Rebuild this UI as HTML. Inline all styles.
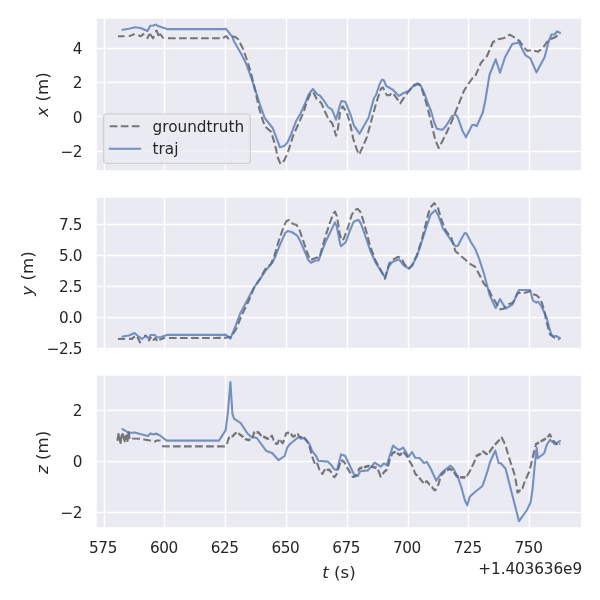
<!DOCTYPE html>
<html><head><meta charset="utf-8"><title>trajectory xyz</title>
<style>
html,body{margin:0;padding:0;background:#fff;}
body{width:600px;height:600px;overflow:hidden;font-family:"DejaVu Sans","Liberation Sans",sans-serif;}
svg{display:block;}
</style></head><body>
<svg width="600" height="600" viewBox="0 0 432 432">
 <defs>
  <style type="text/css">*{stroke-linejoin: round; stroke-linecap: butt}</style>
 </defs>
 <g id="figure_1">
  <g id="patch_1">
   <path d="M 0 432 
L 432 432 
L 432 0 
L 0 0 
z
" style="fill: #ffffff"/>
  </g>
  <g id="axes_1">
   <g id="patch_2">
    <path d="M 69.12 123.12 
L 419.04 123.12 
L 419.04 12.96 
L 69.12 12.96 
z
" style="fill: #eaeaf2"/>
   </g>
   <g id="matplotlib.axis_1">
    <g id="xtick_1">
     <g id="line2d_1">
      <path d="M 75.2400 123.12 L 75.2400 12.96" clip-path="url(#p0ea78d6b2a)" style="fill: none; stroke: #ffffff; stroke-linecap: round"/>
     </g>
    </g>
    <g id="xtick_2">
     <g id="line2d_2">
      <path d="M 118.4400 123.12 L 118.4400 12.96" clip-path="url(#p0ea78d6b2a)" style="fill: none; stroke: #ffffff; stroke-linecap: round"/>
     </g>
    </g>
    <g id="xtick_3">
     <g id="line2d_3">
      <path d="M 162.3600 123.12 L 162.3600 12.96" clip-path="url(#p0ea78d6b2a)" style="fill: none; stroke: #ffffff; stroke-linecap: round"/>
     </g>
    </g>
    <g id="xtick_4">
     <g id="line2d_4">
      <path d="M 206.2800 123.12 L 206.2800 12.96" clip-path="url(#p0ea78d6b2a)" style="fill: none; stroke: #ffffff; stroke-linecap: round"/>
     </g>
    </g>
    <g id="xtick_5">
     <g id="line2d_5">
      <path d="M 250.2000 123.12 L 250.2000 12.96" clip-path="url(#p0ea78d6b2a)" style="fill: none; stroke: #ffffff; stroke-linecap: round"/>
     </g>
    </g>
    <g id="xtick_6">
     <g id="line2d_6">
      <path d="M 294.1200 123.12 L 294.1200 12.96" clip-path="url(#p0ea78d6b2a)" style="fill: none; stroke: #ffffff; stroke-linecap: round"/>
     </g>
    </g>
    <g id="xtick_7">
     <g id="line2d_7">
      <path d="M 337.3200 123.12 L 337.3200 12.96" clip-path="url(#p0ea78d6b2a)" style="fill: none; stroke: #ffffff; stroke-linecap: round"/>
     </g>
    </g>
    <g id="xtick_8">
     <g id="line2d_8">
      <path d="M 381.2400 123.12 L 381.2400 12.96" clip-path="url(#p0ea78d6b2a)" style="fill: none; stroke: #ffffff; stroke-linecap: round"/>
     </g>
    </g>
   </g>
   <g id="matplotlib.axis_2">
    <g id="ytick_1">
     <g id="line2d_9">
      <path d="M 69.12 109.0800 L 419.04 109.0800" clip-path="url(#p0ea78d6b2a)" style="fill: none; stroke: #ffffff; stroke-linecap: round"/>
     </g>
     <g id="text_1">
      <text style="font-size: 11px; font-family: 'DejaVu Sans', 'Liberation Sans', sans-serif; text-anchor: end; fill: #262626; letter-spacing: -0.3px" x="59.120" y="112.971">−2</text>
     </g>
    </g>
    <g id="ytick_2">
     <g id="line2d_10">
      <path d="M 69.12 83.8800 L 419.04 83.8800" clip-path="url(#p0ea78d6b2a)" style="fill: none; stroke: #ffffff; stroke-linecap: round"/>
     </g>
     <g id="text_2">
      <text style="font-size: 11px; font-family: 'DejaVu Sans', 'Liberation Sans', sans-serif; text-anchor: end; fill: #262626; letter-spacing: -0.3px" x="59.120" y="88.275">0</text>
     </g>
    </g>
    <g id="ytick_3">
     <g id="line2d_11">
      <path d="M 69.12 59.4000 L 419.04 59.4000" clip-path="url(#p0ea78d6b2a)" style="fill: none; stroke: #ffffff; stroke-linecap: round"/>
     </g>
     <g id="text_3">
      <text style="font-size: 11px; font-family: 'DejaVu Sans', 'Liberation Sans', sans-serif; text-anchor: end; fill: #262626; letter-spacing: -0.3px" x="59.120" y="63.579">2</text>
     </g>
    </g>
    <g id="ytick_4">
     <g id="line2d_12">
      <path d="M 69.12 34.9200 L 419.04 34.9200" clip-path="url(#p0ea78d6b2a)" style="fill: none; stroke: #ffffff; stroke-linecap: round"/>
     </g>
     <g id="text_4">
      <text style="font-size: 11px; font-family: 'DejaVu Sans', 'Liberation Sans', sans-serif; text-anchor: end; fill: #262626; letter-spacing: -0.3px" x="59.120" y="38.883">4</text>
     </g>
    </g>
    <g id="text_5">
     <g transform="translate(35.348 84.060) rotate(-90)"><text x="0" y="-0.890625" xml:space="preserve" style="font-size: 12px; font-family: 'DejaVu Sans', 'Liberation Sans', sans-serif; fill: #262626"><tspan style="font-style: italic">x</tspan> (m)</text></g>
    </g>
   </g>
   <g id="line2d_13">
    <path d="M 120.9312 27.572326 
L 160.56 27.504 
L 162.72 25.92 
L 164.376 27.72 
L 166.824 26.424 
L 169.2 26.424 
L 171.576 28.296 
L 174.96 35.064 
L 177.84 43.2 
L 180.216 50.904 
L 182.664 60.48 
L 185.04 71.064 
L 186.696 78.264 
L 189.576 87.84 
L 191.52 91.656 
L 195.336 95.04 
L 198.216 105.12 
L 200.16 113.76 
L 201.888 118.08 
L 204.48 115.704 
L 206.856 110.88 
L 211.176 97.416 
L 215.064 88.776 
L 218.88 80.136 
L 220.824 73.224 
L 223.704 66.96 
L 225.576 66.456 
L 228.024 71.28 
L 231.336 74.16 
L 233.784 79.92 
L 236.664 86.184 
L 239.04 88.56 
L 240.48 92.376 
L 241.92 97.704 
L 243.36 92.376 
L 244.8 80.856 
L 246.744 76.536 
L 249.624 80.856 
L 252 88.56 
L 254.376 100.08 
L 257.256 108.72 
L 258.696 111.24 
L 264.024 99.144 
L 267.984 84.6 
L 271.08 73.44 
L 274.32 63.864 
L 275.76 62.856 
L 277.2 66.24 
L 278.64 68.616 
L 280.584 68.616 
L 282.024 66.744 
L 283.464 67.68 
L 288.216 74.376 
L 291.6 69.12 
L 295.416 64.296 
L 298.8 61.416 
L 301.176 60.48 
L 303.12 62.28 
L 306 71.064 
L 308.52 80.28 
L 311.184 91.008 
L 313.344 100.584 
L 315.864 106.56 
L 320.184 98.424 
L 325.44 86.904 
L 329.76 76.32 
L 334.08 65.304 
L 337.32 60.192 
L 340.344 56.16 
L 342 55.224 
L 346.32 45.144 
L 350.64 40.32 
L 354.96 30.24 
L 358.776 28.296 
L 363.096 27.36 
L 366.984 24.984 
L 370.296 26.856 
L 374.184 29.664 
L 377.28 34.344 
L 379.656 36.576 
L 383.04 36 
L 387.36 37.224 
L 390.6 34.92 
L 394.92 28.8 
L 397.44 27.72 
L 399.24 27 
L 401.04 25.92 
L 403.2 27.216 
" clip-path="url(#p0ea78d6b2a)" style="fill: none; stroke-dasharray: 5.55,2.4; stroke-dashoffset: 0; stroke: #000000; stroke-opacity: 0.5; stroke-width: 1.5"/>
   </g>
   <g id="line2d_14">
    <path d="M 84.96 26.136 
L 89.712 26.064 
" clip-path="url(#p0ea78d6b2a)" style="fill: none; stroke: #000000; stroke-opacity: 0.5; stroke-width: 1.5"/>
   </g>
   <g id="line2d_15">
    <path d="M 92.736 26.208 
L 96.912 24.48 
" clip-path="url(#p0ea78d6b2a)" style="fill: none; stroke: #000000; stroke-opacity: 0.5; stroke-width: 1.5"/>
   </g>
   <g id="line2d_16">
    <path d="M 99.648 25.272 
L 101.16 26.136 
L 103.752 24.192 
" clip-path="url(#p0ea78d6b2a)" style="fill: none; stroke: #000000; stroke-opacity: 0.5; stroke-width: 1.5"/>
   </g>
   <g id="line2d_17">
    <path d="M 105.912 28.008 
L 107.208 25.056 
L 108.288 24.84 
L 110.232 27.576 
L 110.952 26.064 
" clip-path="url(#p0ea78d6b2a)" style="fill: none; stroke: #000000; stroke-opacity: 0.5; stroke-width: 1.5"/>
   </g>
   <g id="line2d_18">
    <path d="M 111.744 22.752 
L 112.824 22.032 
L 113.472 23.76 
L 113.904 25.272 
L 115.632 24.84 
L 117.792 27.72 
" clip-path="url(#p0ea78d6b2a)" style="fill: none; stroke: #000000; stroke-opacity: 0.5; stroke-width: 1.5"/>
   </g>
   <g id="line2d_19">
    <path d="M 88.2 21.456 
L 92.88 20.736 
L 97.2 19.656 
L 101.16 20.16 
L 106.2 22.32 
L 108.144 18.576 
L 110.52 18.36 
L 112.32 17.64 
L 113.76 18.72 
L 120.24 20.952 
L 159.84 20.988 
L 162.72 20.808 
L 165.816 24.768 
L 167.256 26.424 
L 168.264 29.304 
L 174.024 39.384 
L 177.336 46.08 
L 179.784 52.776 
L 182.664 61.2 
L 184.32 66.24 
L 187.2 75.384 
L 190.584 84.96 
L 196.344 92.16 
L 201.6 106.056 
L 204.48 105.12 
L 206.856 102.744 
L 209.304 97.416 
L 213.12 87.336 
L 216.36 81.72 
L 219.384 75.096 
L 222.264 67.896 
L 225.288 64.08 
L 228.456 67.896 
L 230.4 68.904 
L 233.784 73.224 
L 236.16 77.04 
L 239.04 78.984 
L 240.48 82.296 
L 241.92 86.184 
L 243.864 78.984 
L 245.736 72.72 
L 248.616 73.224 
L 252.504 82.8 
L 254.88 90.504 
L 258.84 96.264 
L 265.32 84.744 
L 269.28 70.56 
L 270.72 68.4 
L 273.384 60.48 
L 275.04 57.384 
L 276.264 57.6 
L 278.136 61.92 
L 282.456 64.296 
L 287.28 69.12 
L 290.16 67.176 
L 294.48 65.304 
L 298.296 60.984 
L 300.744 59.976 
L 302.616 60.984 
L 305.64 67.392 
L 307.944 74.16 
L 310.32 79.92 
L 312.696 88.344 
L 314.496 92.664 
L 318.6 93.384 
L 321.12 90.72 
L 325.44 83.52 
L 328.32 82.584 
L 329.76 84.96 
L 333.144 94.536 
L 335.52 98.856 
L 339.84 90.216 
L 341.28 89.784 
L 343.224 90.72 
L 347.544 81.144 
L 349.416 72.36 
L 352.44 54 
L 356.904 42.696 
L 360 52.344 
L 363.6 41.256 
L 368.856 31.68 
L 373.68 30.528 
L 376.056 35.496 
L 378.432 39.888 
L 381.888 41.976 
L 386.28 52.056 
L 392.184 41.04 
L 394.92 30.24 
L 397.08 24.84 
L 399.24 24.84 
L 401.04 22.68 
L 403.2 23.616 
" clip-path="url(#p0ea78d6b2a)" style="fill: none; stroke: #4c72b0; stroke-opacity: 0.75; stroke-width: 1.5; stroke-linecap: round"/>
   </g>
   <g id="patch_3">
    <path d="M 69.12 123.12 
L 69.12 12.96 
" style="fill: none; stroke: #ffffff; stroke-width: 1.25; stroke-linejoin: miter; stroke-linecap: square"/>
   </g>
   <g id="patch_4">
    <path d="M 419.04 123.12 
L 419.04 12.96 
" style="fill: none; stroke: #ffffff; stroke-width: 1.25; stroke-linejoin: miter; stroke-linecap: square"/>
   </g>
   <g id="patch_5">
    <path d="M 69.12 123.12 
L 419.04 123.12 
" style="fill: none; stroke: #ffffff; stroke-width: 1.25; stroke-linejoin: miter; stroke-linecap: square"/>
   </g>
   <g id="patch_6">
    <path d="M 69.12 12.96 
L 419.04 12.96 
" style="fill: none; stroke: #ffffff; stroke-width: 1.25; stroke-linejoin: miter; stroke-linecap: square"/>
   </g>
   <g id="legend_1">
    <g id="patch_7">
     <path d="M 76.82 117.62 
L 178.023438 117.62 
Q 180.223438 117.62 180.223438 115.42 
L 180.223438 84.228125 
Q 180.223438 82.028125 178.023438 82.028125 
L 76.82 82.028125 
Q 74.62 82.028125 74.62 84.228125 
L 74.62 115.42 
Q 74.62 117.62 76.82 117.62 
z
" style="fill: #eaeaf2; opacity: 0.8; stroke: #cccccc; stroke-linejoin: miter"/>
    </g>
    <g id="line2d_20">
     <path d="M 79.02 90.936406 
L 90.02 90.936406 
L 101.02 90.936406 
" style="fill: none; stroke-dasharray: 5.55,2.4; stroke-dashoffset: 0; stroke: #000000; stroke-opacity: 0.5; stroke-width: 1.5"/>
    </g>
    <g id="text_6">
     <text style="font-size: 11px; font-family: 'DejaVu Sans', 'Liberation Sans', sans-serif; text-anchor: start; fill: #262626" x="109.820" y="94.786">groundtruth</text>
    </g>
    <g id="line2d_21">
     <path d="M 79.02 107.082344 
L 90.02 107.082344 
L 101.02 107.082344 
" style="fill: none; stroke: #4c72b0; stroke-opacity: 0.75; stroke-width: 1.5; stroke-linecap: round"/>
    </g>
    <g id="text_7">
     <text style="font-size: 11px; font-family: 'DejaVu Sans', 'Liberation Sans', sans-serif; text-anchor: start; fill: #262626" x="109.820" y="110.932">traj</text>
    </g>
   </g>
  </g>
  <g id="axes_2">
   <g id="patch_8">
    <path d="M 69.12 252 
L 419.04 252 
L 419.04 141.84 
L 69.12 141.84 
z
" style="fill: #eaeaf2"/>
   </g>
   <g id="matplotlib.axis_3">
    <g id="xtick_9">
     <g id="line2d_22">
      <path d="M 75.2400 252 L 75.2400 141.84" clip-path="url(#pbe1f5e90db)" style="fill: none; stroke: #ffffff; stroke-linecap: round"/>
     </g>
    </g>
    <g id="xtick_10">
     <g id="line2d_23">
      <path d="M 118.4400 252 L 118.4400 141.84" clip-path="url(#pbe1f5e90db)" style="fill: none; stroke: #ffffff; stroke-linecap: round"/>
     </g>
    </g>
    <g id="xtick_11">
     <g id="line2d_24">
      <path d="M 162.3600 252 L 162.3600 141.84" clip-path="url(#pbe1f5e90db)" style="fill: none; stroke: #ffffff; stroke-linecap: round"/>
     </g>
    </g>
    <g id="xtick_12">
     <g id="line2d_25">
      <path d="M 206.2800 252 L 206.2800 141.84" clip-path="url(#pbe1f5e90db)" style="fill: none; stroke: #ffffff; stroke-linecap: round"/>
     </g>
    </g>
    <g id="xtick_13">
     <g id="line2d_26">
      <path d="M 250.2000 252 L 250.2000 141.84" clip-path="url(#pbe1f5e90db)" style="fill: none; stroke: #ffffff; stroke-linecap: round"/>
     </g>
    </g>
    <g id="xtick_14">
     <g id="line2d_27">
      <path d="M 294.1200 252 L 294.1200 141.84" clip-path="url(#pbe1f5e90db)" style="fill: none; stroke: #ffffff; stroke-linecap: round"/>
     </g>
    </g>
    <g id="xtick_15">
     <g id="line2d_28">
      <path d="M 337.3200 252 L 337.3200 141.84" clip-path="url(#pbe1f5e90db)" style="fill: none; stroke: #ffffff; stroke-linecap: round"/>
     </g>
    </g>
    <g id="xtick_16">
     <g id="line2d_29">
      <path d="M 381.2400 252 L 381.2400 141.84" clip-path="url(#pbe1f5e90db)" style="fill: none; stroke: #ffffff; stroke-linecap: round"/>
     </g>
    </g>
   </g>
   <g id="matplotlib.axis_4">
    <g id="ytick_5">
     <g id="line2d_30">
      <path d="M 69.12 250.9200 L 419.04 250.9200" clip-path="url(#pbe1f5e90db)" style="fill: none; stroke: #ffffff; stroke-linecap: round"/>
     </g>
     <g id="text_8">
      <text style="font-size: 11px; font-family: 'DejaVu Sans', 'Liberation Sans', sans-serif; text-anchor: end; fill: #262626; letter-spacing: -0.3px" x="59.120" y="255.099">−2.5</text>
     </g>
    </g>
    <g id="ytick_6">
     <g id="line2d_31">
      <path d="M 69.12 228.6000 L 419.04 228.6000" clip-path="url(#pbe1f5e90db)" style="fill: none; stroke: #ffffff; stroke-linecap: round"/>
     </g>
     <g id="text_9">
      <text style="font-size: 11px; font-family: 'DejaVu Sans', 'Liberation Sans', sans-serif; text-anchor: end; fill: #262626; letter-spacing: -0.3px" x="59.120" y="232.779">0.0</text>
     </g>
    </g>
    <g id="ytick_7">
     <g id="line2d_32">
      <path d="M 69.12 206.2800 L 419.04 206.2800" clip-path="url(#pbe1f5e90db)" style="fill: none; stroke: #ffffff; stroke-linecap: round"/>
     </g>
     <g id="text_10">
      <text style="font-size: 11px; font-family: 'DejaVu Sans', 'Liberation Sans', sans-serif; text-anchor: end; fill: #262626; letter-spacing: -0.3px" x="59.120" y="210.459">2.5</text>
     </g>
    </g>
    <g id="ytick_8">
     <g id="line2d_33">
      <path d="M 69.12 183.9600 L 419.04 183.9600" clip-path="url(#pbe1f5e90db)" style="fill: none; stroke: #ffffff; stroke-linecap: round"/>
     </g>
     <g id="text_11">
      <text style="font-size: 11px; font-family: 'DejaVu Sans', 'Liberation Sans', sans-serif; text-anchor: end; fill: #262626; letter-spacing: -0.3px" x="59.120" y="188.139">5.0</text>
     </g>
    </g>
    <g id="ytick_9">
     <g id="line2d_34">
      <path d="M 69.12 161.6400 L 419.04 161.6400" clip-path="url(#pbe1f5e90db)" style="fill: none; stroke: #ffffff; stroke-linecap: round"/>
     </g>
     <g id="text_12">
      <text style="font-size: 11px; font-family: 'DejaVu Sans', 'Liberation Sans', sans-serif; text-anchor: end; fill: #262626; letter-spacing: -0.3px" x="59.120" y="165.819">7.5</text>
     </g>
    </g>
    <g id="text_13">
     <g transform="translate(24.829 212.940) rotate(-90)"><text x="0" y="-0.890625" xml:space="preserve" style="font-size: 12px; font-family: 'DejaVu Sans', 'Liberation Sans', sans-serif; fill: #262626"><tspan style="font-style: italic">y</tspan> (m)</text></g>
    </g>
   </g>
   <g id="line2d_35">
    <path d="M 121.6512 243.358802 
L 162.504 243.288 
L 164.376 242.424 
L 166.32 242.856 
L 170.136 236.664 
L 174.024 227.016 
L 177.84 219.384 
L 180.72 212.616 
L 183.096 206.856 
L 187.56 200.16 
L 190.8 194.04 
L 195.12 190.08 
L 197.496 184.32 
L 200.88 172.8 
L 204.264 163.224 
L 206.136 159.336 
L 208.08 158.4 
L 210.96 161.28 
L 213.336 161.784 
L 215.28 164.664 
L 218.16 172.8 
L 221.04 181.44 
L 223.416 187.2 
L 225.864 186.264 
L 228.24 185.472 
L 230.04 185.616 
L 231.84 178.92 
L 234.504 169.56 
L 237.816 159.624 
L 240.264 153.36 
L 241.2 152.352 
L 242.64 155.736 
L 244.584 168.264 
L 246.024 173.016 
L 247.464 172.08 
L 250.344 164.376 
L 253.224 154.8 
L 255.6 150.984 
L 257.544 150.48 
L 259.416 152.424 
L 261.36 158.184 
L 263.52 165.96 
L 266.616 177.624 
L 270.36 187.56 
L 274.824 195.624 
L 277.2 200.664 
L 280.08 190.08 
L 282.456 187.2 
L 286.776 184.824 
L 289.224 186.264 
L 291.096 190.08 
L 293.976 193.464 
L 296.424 191.52 
L 300.24 183.384 
L 303.48 173.52 
L 305.784 164.376 
L 308.52 153.36 
L 310.32 148.824 
L 312.624 146.304 
L 315.216 149.184 
L 317.88 158.4 
L 321.12 166.32 
L 324.936 171.144 
L 327.816 180.72 
L 332.136 184.536 
L 335.736 187.56 
L 337.68 189.576 
L 342 192.024 
L 345.384 198.216 
L 348.264 203.976 
L 351.576 207.864 
L 354.024 213.12 
L 357.336 218.376 
L 360.216 222.696 
L 362.664 222.264 
L 365.04 219.384 
L 369.36 217.944 
L 372.744 210.744 
L 376.56 211.104 
L 379.8 210.24 
L 381.6 209.52 
L 383.4 211.68 
L 386.28 212.544 
L 388.44 214.56 
L 390.24 218.16 
L 392.184 224.856 
L 393.12 230.4 
L 394.56 235.44 
L 396 240.84 
L 398.88 243 
L 400.68 243.36 
L 402.84 244.44 
" clip-path="url(#pbe1f5e90db)" style="fill: none; stroke-dasharray: 5.55,2.4; stroke-dashoffset: 0; stroke: #000000; stroke-opacity: 0.5; stroke-width: 1.5"/>
   </g>
   <g id="line2d_36">
    <path d="M 84.888 244.008 
L 90.072 244.008 
" clip-path="url(#pbe1f5e90db)" style="fill: none; stroke: #000000; stroke-opacity: 0.5; stroke-width: 1.5"/>
   </g>
   <g id="line2d_37">
    <path d="M 92.88 244.008 
L 95.04 244.008 
L 97.056 242.208 
" clip-path="url(#pbe1f5e90db)" style="fill: none; stroke: #000000; stroke-opacity: 0.5; stroke-width: 1.5"/>
   </g>
   <g id="line2d_38">
    <path d="M 98.712 242.712 
L 99.36 243.36 
L 101.088 247.104 
" clip-path="url(#pbe1f5e90db)" style="fill: none; stroke: #000000; stroke-opacity: 0.5; stroke-width: 1.5"/>
   </g>
   <g id="line2d_39">
    <path d="M 103.68 241.92 
L 105.696 241.632 
" clip-path="url(#pbe1f5e90db)" style="fill: none; stroke: #000000; stroke-opacity: 0.5; stroke-width: 1.5"/>
   </g>
   <g id="line2d_40">
    <path d="M 106.92 245.736 
L 108.864 242.496 
" clip-path="url(#pbe1f5e90db)" style="fill: none; stroke: #000000; stroke-opacity: 0.5; stroke-width: 1.5"/>
   </g>
   <g id="line2d_41">
    <path d="M 110.16 245.088 
L 111.672 243.576 
L 113.184 245.304 
" clip-path="url(#pbe1f5e90db)" style="fill: none; stroke: #000000; stroke-opacity: 0.5; stroke-width: 1.5"/>
   </g>
   <g id="line2d_42">
    <path d="M 114.696 244.656 
L 118.8 243.144 
" clip-path="url(#pbe1f5e90db)" style="fill: none; stroke: #000000; stroke-opacity: 0.5; stroke-width: 1.5"/>
   </g>
   <g id="line2d_43">
    <path d="M 88.2 242.28 
L 92.88 241.56 
L 96.84 239.76 
L 99.36 241.92 
L 102.24 244.08 
L 105.12 241.92 
L 106.92 243.72 
L 108.36 241.2 
L 111.6 241.2 
L 112.68 243 
L 115.92 242.64 
L 120.24 241.128 
L 159.84 241.128 
L 162.504 240.912 
L 165.816 243.864 
L 169.2 235.656 
L 173.016 225.576 
L 176.904 218.376 
L 182.664 207.36 
L 186.48 202.104 
L 191.304 194.76 
L 196.056 189.144 
L 198 185.256 
L 201.384 176.616 
L 205.2 167.976 
L 207.144 166.32 
L 210.024 167.04 
L 213.84 169.416 
L 216.216 173.736 
L 219.6 181.44 
L 221.976 187.2 
L 223.92 189.144 
L 226.8 187.776 
L 229.464 187.416 
L 231.12 182.376 
L 234.504 173.88 
L 238.32 166.176 
L 241.2 160.128 
L 242.64 163.44 
L 244.584 174.024 
L 245.52 177.336 
L 248.904 174.456 
L 251.784 166.32 
L 254.664 159.624 
L 257.976 158.184 
L 259.92 161.064 
L 263.16 170.28 
L 266.616 180.504 
L 270.576 189.36 
L 275.76 197.496 
L 277.2 199.656 
L 280.08 191.52 
L 282.456 188.64 
L 287.28 186.696 
L 290.664 191.016 
L 294.48 193.464 
L 296.856 191.016 
L 300.24 184.32 
L 303.12 175.68 
L 306.576 164.88 
L 309.96 154.656 
L 313.56 151.272 
L 315.72 155.52 
L 318.96 164.52 
L 323.496 171.144 
L 327.816 177.336 
L 329.76 176.904 
L 332.136 172.08 
L 334.584 167.76 
L 336.024 168.264 
L 338.904 174.024 
L 342.36 179.64 
L 344.664 185.544 
L 348.336 196.56 
L 352.584 212.616 
L 356.904 221.76 
L 360 215.28 
L 364.104 222.264 
L 368.856 219.384 
L 373.68 208.8 
L 381.6 208.8 
L 383.76 216.432 
L 386.208 217.872 
L 387.36 217.08 
L 389.736 220.32 
L 392.04 225.36 
L 393.48 228.24 
L 395.28 235.44 
L 397.08 241.2 
L 398.52 242.064 
L 400.32 241.92 
L 403.2 243.504 
" clip-path="url(#pbe1f5e90db)" style="fill: none; stroke: #4c72b0; stroke-opacity: 0.75; stroke-width: 1.5; stroke-linecap: round"/>
   </g>
   <g id="patch_9">
    <path d="M 69.12 252 
L 69.12 141.84 
" style="fill: none; stroke: #ffffff; stroke-width: 1.25; stroke-linejoin: miter; stroke-linecap: square"/>
   </g>
   <g id="patch_10">
    <path d="M 419.04 252 
L 419.04 141.84 
" style="fill: none; stroke: #ffffff; stroke-width: 1.25; stroke-linejoin: miter; stroke-linecap: square"/>
   </g>
   <g id="patch_11">
    <path d="M 69.12 252 
L 419.04 252 
" style="fill: none; stroke: #ffffff; stroke-width: 1.25; stroke-linejoin: miter; stroke-linecap: square"/>
   </g>
   <g id="patch_12">
    <path d="M 69.12 141.84 
L 419.04 141.84 
" style="fill: none; stroke: #ffffff; stroke-width: 1.25; stroke-linejoin: miter; stroke-linecap: square"/>
   </g>
  </g>
  <g id="axes_3">
   <g id="patch_13">
    <path d="M 69.12 380.16 
L 419.04 380.16 
L 419.04 270 
L 69.12 270 
z
" style="fill: #eaeaf2"/>
   </g>
   <g id="matplotlib.axis_5">
    <g id="xtick_17">
     <g id="line2d_44">
      <path d="M 75.2400 380.16 L 75.2400 270" clip-path="url(#pef7c43d9bb)" style="fill: none; stroke: #ffffff; stroke-linecap: round"/>
     </g>
     <g id="text_14">
      <text style="font-size: 11px; font-family: 'DejaVu Sans', 'Liberation Sans', sans-serif; text-anchor: middle; fill: #262626; letter-spacing: -0.3px" x="74.188" y="398.018">575</text>
     </g>
    </g>
    <g id="xtick_18">
     <g id="line2d_45">
      <path d="M 118.4400 380.16 L 118.4400 270" clip-path="url(#pef7c43d9bb)" style="fill: none; stroke: #ffffff; stroke-linecap: round"/>
     </g>
     <g id="text_15">
      <text style="font-size: 11px; font-family: 'DejaVu Sans', 'Liberation Sans', sans-serif; text-anchor: middle; fill: #262626; letter-spacing: -0.3px" x="117.953" y="398.018">600</text>
     </g>
    </g>
    <g id="xtick_19">
     <g id="line2d_46">
      <path d="M 162.3600 380.16 L 162.3600 270" clip-path="url(#pef7c43d9bb)" style="fill: none; stroke: #ffffff; stroke-linecap: round"/>
     </g>
     <g id="text_16">
      <text style="font-size: 11px; font-family: 'DejaVu Sans', 'Liberation Sans', sans-serif; text-anchor: middle; fill: #262626; letter-spacing: -0.3px" x="161.718" y="398.018">625</text>
     </g>
    </g>
    <g id="xtick_20">
     <g id="line2d_47">
      <path d="M 206.2800 380.16 L 206.2800 270" clip-path="url(#pef7c43d9bb)" style="fill: none; stroke: #ffffff; stroke-linecap: round"/>
     </g>
     <g id="text_17">
      <text style="font-size: 11px; font-family: 'DejaVu Sans', 'Liberation Sans', sans-serif; text-anchor: middle; fill: #262626; letter-spacing: -0.3px" x="205.484" y="398.018">650</text>
     </g>
    </g>
    <g id="xtick_21">
     <g id="line2d_48">
      <path d="M 250.2000 380.16 L 250.2000 270" clip-path="url(#pef7c43d9bb)" style="fill: none; stroke: #ffffff; stroke-linecap: round"/>
     </g>
     <g id="text_18">
      <text style="font-size: 11px; font-family: 'DejaVu Sans', 'Liberation Sans', sans-serif; text-anchor: middle; fill: #262626; letter-spacing: -0.3px" x="249.249" y="398.018">675</text>
     </g>
    </g>
    <g id="xtick_22">
     <g id="line2d_49">
      <path d="M 294.1200 380.16 L 294.1200 270" clip-path="url(#pef7c43d9bb)" style="fill: none; stroke: #ffffff; stroke-linecap: round"/>
     </g>
     <g id="text_19">
      <text style="font-size: 11px; font-family: 'DejaVu Sans', 'Liberation Sans', sans-serif; text-anchor: middle; fill: #262626; letter-spacing: -0.3px" x="293.014" y="398.018">700</text>
     </g>
    </g>
    <g id="xtick_23">
     <g id="line2d_50">
      <path d="M 337.3200 380.16 L 337.3200 270" clip-path="url(#pef7c43d9bb)" style="fill: none; stroke: #ffffff; stroke-linecap: round"/>
     </g>
     <g id="text_20">
      <text style="font-size: 11px; font-family: 'DejaVu Sans', 'Liberation Sans', sans-serif; text-anchor: middle; fill: #262626; letter-spacing: -0.3px" x="336.779" y="398.018">725</text>
     </g>
    </g>
    <g id="xtick_24">
     <g id="line2d_51">
      <path d="M 381.2400 380.16 L 381.2400 270" clip-path="url(#pef7c43d9bb)" style="fill: none; stroke: #ffffff; stroke-linecap: round"/>
     </g>
     <g id="text_21">
      <text style="font-size: 11px; font-family: 'DejaVu Sans', 'Liberation Sans', sans-serif; text-anchor: middle; fill: #262626; letter-spacing: -0.3px" x="380.544" y="398.018">750</text>
     </g>
    </g>
    <g id="text_22">
     <g transform="translate(231.960 416.974)"><text x="0" y="-0.890625" xml:space="preserve" style="font-size: 12px; font-family: 'DejaVu Sans', 'Liberation Sans', sans-serif; fill: #262626"><tspan style="font-style: italic">t</tspan> (s)</text></g>
    </g>
    <g id="text_23">
     <text style="font-size: 11px; font-family: 'DejaVu Sans', 'Liberation Sans', sans-serif; text-anchor: end; fill: #262626; letter-spacing: -0.07px" x="419.040" y="413.104">+1.403636e9</text>
    </g>
   </g>
   <g id="matplotlib.axis_6">
    <g id="ytick_10">
     <g id="line2d_52">
      <path d="M 69.12 369.0000 L 419.04 369.0000" clip-path="url(#pef7c43d9bb)" style="fill: none; stroke: #ffffff; stroke-linecap: round"/>
     </g>
     <g id="text_24">
      <text style="font-size: 11px; font-family: 'DejaVu Sans', 'Liberation Sans', sans-serif; text-anchor: end; fill: #262626; letter-spacing: -0.3px" x="59.120" y="373.179">−2</text>
     </g>
    </g>
    <g id="ytick_11">
     <g id="line2d_53">
      <path d="M 69.12 332.2800 L 419.04 332.2800" clip-path="url(#pef7c43d9bb)" style="fill: none; stroke: #ffffff; stroke-linecap: round"/>
     </g>
     <g id="text_25">
      <text style="font-size: 11px; font-family: 'DejaVu Sans', 'Liberation Sans', sans-serif; text-anchor: end; fill: #262626; letter-spacing: -0.3px" x="59.120" y="336.459">0</text>
     </g>
    </g>
    <g id="ytick_12">
     <g id="line2d_54">
      <path d="M 69.12 295.5600 L 419.04 295.5600" clip-path="url(#pef7c43d9bb)" style="fill: none; stroke: #ffffff; stroke-linecap: round"/>
     </g>
     <g id="text_26">
      <text style="font-size: 11px; font-family: 'DejaVu Sans', 'Liberation Sans', sans-serif; text-anchor: end; fill: #262626; letter-spacing: -0.3px" x="59.120" y="299.739">2</text>
     </g>
    </g>
    <g id="text_27">
     <g transform="translate(35.348 341.280) rotate(-90)"><text x="0" y="-0.890625" xml:space="preserve" style="font-size: 12px; font-family: 'DejaVu Sans', 'Liberation Sans', sans-serif; fill: #262626"><tspan style="font-style: italic">z</tspan> (m)</text></g>
    </g>
   </g>
   <g id="line2d_55">
    <path d="M 84.6 316.8 
L 85.32 312.48 
L 84.6 316.8 
L 85.32 312.48 
L 86.04 316.08 
L 85.32 312.48 
L 86.04 316.08 
L 86.76 318.96 
L 86.04 316.08 
L 86.76 318.96 
L 87.696 313.2 
L 86.76 318.96 
L 87.696 313.2 
L 88.416 312.48 
L 87.696 313.2 
L 88.416 312.48 
L 89.136 315.36 
L 88.416 312.48 
L 89.136 315.36 
L 89.856 317.88 
L 89.136 315.36 
L 89.856 317.88 
L 90.576 313.92 
L 89.856 317.88 
L 90.576 313.92 
L 91.296 313.56 
L 90.576 313.92 
L 91.296 313.56 
L 91.8 317.52 
L 91.296 313.56 
L 91.8 317.52 
L 92.736 311.04 
L 91.8 317.52 
L 92.736 311.04 
L 93.24 315.36 
L 92.736 311.04 
L 93.24 315.36 
" clip-path="url(#pef7c43d9bb)" style="fill: none; stroke-dasharray: 5.55,2.4; stroke-dashoffset: 0; stroke: #000000; stroke-opacity: 0.5; stroke-width: 1.5"/>
   </g>
   <g id="line2d_56">
    <path d="M 95.256 315.648 
L 95.76 315.72 
L 100.8 315.936 
L 103.68 316.44 
L 108 317.16 
L 111.24 317.88 
L 113.04 317.16 
L 115.56 317.16 
" clip-path="url(#pef7c43d9bb)" style="fill: none; stroke-dasharray: 5.55,2.4; stroke-dashoffset: 0; stroke: #000000; stroke-opacity: 0.5; stroke-width: 1.5"/>
   </g>
   <g id="line2d_57">
    <path d="M 116.568 321.336 
L 121.32 321.408 
L 162.216 321.408 
L 163.8 318.368571 
L 164.34 316.447714 
L 164.88 315.058909 
L 165.24 315.349091 
L 165.6 314.775273 
L 165.96 315.065455 
L 166.32 314.491636 
L 166.68 314.781818 
L 167.04 314.208 
L 167.4 314.269091 
L 167.76 313.466182 
L 168.12 313.527273 
L 168.48 312.724364 
L 168.84 312.785455 
L 169.2 311.982545 
L 169.38 312.013091 
L 169.56 312.2172 
L 169.92 311.8482 
L 170.28 312.3432 
L 170.64 311.9742 
L 171 312.4692 
L 171.36 312.1002 
L 171.72 312.5952 
L 172.08 312.2262 
L 172.44 312.802667 
L 172.8 312.637333 
L 173.16 313.336 
L 173.52 313.170667 
L 173.88 313.869333 
L 174.24 313.704 
L 174.6 314.433 
L 174.96 314.298 
L 175.32 315.027 
L 175.68 314.892 
L 176.04 315.621 
L 176.4 315.486 
L 176.76 316.215 
L 177.12 316.08 
L 177.48 316.605333 
L 177.84 316.266667 
L 178.2 316.792 
L 178.56 316.453333 
L 178.92 316.978667 
L 179.28 316.538182 
L 179.64 316.893818 
L 180 316.385455 
L 180.36 316.741091 
L 180.72 316.232727 
L 181.08 316.588364 
L 181.62 315.702 
L 181.8 315.324 
L 182.34 313.326 
L 182.52 312.948 
L 182.88 311.328 
L 183.24 311.737021 
L 183.6 311.282043 
L 183.96 311.691064 
L 184.32 311.236085 
L 184.68 311.645106 
L 185.04 311.190128 
L 185.4 311.599149 
L 185.76 311.14417 
L 186.12 311.553191 
L 186.3 311.3802 
L 186.48 311.4252 
L 186.84 312.3792 
L 187.2 312.4692 
L 187.56 313.4232 
L 187.74 313.434 
L 187.92 313.308 
L 188.28 313.92 
L 188.64 313.668 
L 189 314.28 
L 189.36 314.028 
L 189.72 314.64 
L 190.08 314.388 
L 190.44 315 
L 190.8 314.731636 
L 191.16 315.316364 
L 191.52 315.037091 
L 191.88 315.621818 
L 192.24 315.342545 
L 192.6 315.927273 
L 192.96 315.648 
L 193.32 315.837 
L 193.68 315.162 
L 194.04 315.351 
L 194.4 314.676 
L 194.76 314.865 
L 195.12 314.19 
L 195.48 314.379 
L 195.84 313.704 
L 196.2 315.029333 
L 196.56 315.490667 
L 196.92 316.816 
L 197.28 317.277333 
L 197.64 318.602667 
L 197.82 318.762 
L 198 318.636 
L 198.36 319.248 
L 198.72 318.996 
L 199.08 319.608 
L 199.44 319.356 
L 199.62 319.662 
L 199.8 319.5144 
L 200.34 317.8674 
L 200.52 317.6064 
L 201.06 315.9594 
L 201.24 316.274824 
L 201.6 316.329882 
L 201.96 317.248941 
L 202.32 317.304 
L 202.68 318.223059 
L 203.04 318.278118 
L 203.4 319.197176 
L 203.58 319.084615 
L 203.76 318.411692 
L 204.12 317.929846 
L 204.66 316.215 
L 204.84 315.846 
L 205.38 313.875 
L 205.56 313.506 
L 205.92 311.904 
L 206.28 312.166588 
L 206.64 311.565176 
L 207 311.827765 
L 207.36 311.377846 
L 207.72 311.892923 
L 208.08 311.544 
L 208.44 312.059077 
L 208.8 311.710154 
L 209.34 312.384 
L 209.52 312.394667 
L 209.88 313.28 
L 210.24 313.301333 
L 210.6 314.186667 
L 211.14 314.320596 
L 211.32 314.433191 
L 211.68 313.794383 
L 212.04 314.019574 
L 212.4 313.380766 
L 212.76 313.605957 
L 213.12 312.967149 
L 213.48 313.19234 
L 213.84 312.553532 
L 214.2 312.778723 
L 214.38 312.5394 
L 214.56 312.6204 
L 214.92 313.6464 
L 215.28 313.8084 
L 215.64 314.8344 
L 215.82 314.8506 
L 216 314.6076 
L 216.36 314.9856 
L 216.72 314.4996 
L 217.08 314.8776 
L 217.44 314.3916 
L 217.8 314.7696 
L 218.16 314.2836 
L 218.52 314.6616 
L 218.7 314.474182 
L 218.88 314.509091 
L 219.24 315.442909 
L 219.6 315.512727 
L 219.96 316.446545 
L 220.32 316.516364 
L 220.68 317.450182 
L 221.04 317.52 
L 221.4 318.752 
L 221.76 319.12 
L 222.12 320.352 
L 222.48 320.72 
L 223.02 322.2 
L 223.2 322.704 
L 223.74 325.08 
L 223.92 325.584 
L 224.46 327.918462 
L 224.64 328.214769 
L 225.18 329.967692 
L 225.36 330.264 
L 225.9 332.016923 
L 226.08 332.313231 
L 226.44 333.36 
L 226.8 332.928 
L 227.16 333.36 
L 227.52 332.928 
L 227.88 333.36 
L 228.24 332.928 
L 228.78 334.764 
L 228.96 335.088 
L 229.5 336.924 
L 229.86 337.753091 
L 230.04 338.258182 
L 230.4 338.404364 
L 230.76 339.414545 
L 231.12 339.560727 
L 231.48 340.570909 
L 231.84 340.717091 
L 232.02 341.222182 
L 232.2 341.245333 
L 232.56 340.186667 
L 232.92 339.992 
L 233.28 338.933333 
L 233.64 338.738667 
L 234 337.68 
L 234.36 338.165617 
L 234.72 337.787234 
L 235.08 338.272851 
L 235.44 337.894468 
L 235.8 338.380085 
L 236.16 338.001702 
L 236.52 338.487319 
L 236.88 338.108936 
L 237.24 338.594553 
L 237.42 338.4594 
L 237.6 338.5404 
L 237.96 339.5664 
L 238.32 339.7284 
L 238.68 340.7544 
L 239.04 340.892308 
L 239.4 341.878154 
L 239.76 342 
L 240.12 342.985846 
L 240.48 343.107692 
L 240.66 343.600615 
L 240.84 343.6848 
L 241.2 342.7848 
L 241.56 342.7488 
L 241.92 341.8488 
L 242.1 341.8308 
L 242.28 341.573333 
L 242.82 339.757333 
L 243 339.44 
L 243.54 337.624 
L 243.72 337.306667 
L 244.26 335.421 
L 244.44 335.034 
L 244.98 333.009 
L 245.16 332.622 
L 245.52 330.984 
L 245.88 331.634182 
L 246.24 331.420364 
L 246.6 332.070545 
L 246.96 331.856727 
L 247.32 332.506909 
L 247.68 332.293091 
L 248.58 333.987882 
L 248.76 334.558588 
L 249.12 334.836 
L 249.48 335.977412 
L 249.84 336.254824 
L 250.2 337.396235 
L 250.56 337.594909 
L 250.92 338.605091 
L 251.28 338.751273 
L 251.64 339.761455 
L 252 339.907636 
L 252.36 340.917818 
L 252.72 341.064 
L 253.08 342.036 
L 253.44 342.144 
L 253.8 343.116 
L 254.34 343.366875 
L 254.52 343.50975 
L 254.88 342.9315 
L 255.24 343.21725 
L 255.6 342.639 
L 255.96 342.92475 
L 256.32 342.3465 
L 256.5 342.4176 
L 256.68 342.2016 
L 257.04 340.9056 
L 257.4 340.4736 
L 257.76 339.1776 
L 258.12 338.7456 
L 258.48 337.4496 
L 258.66 337.309463 
L 258.84 337.47278 
L 259.2 336.935415 
L 259.56 337.262049 
L 259.92 336.724683 
L 260.28 337.051317 
L 260.64 336.513951 
L 261 336.840585 
L 261.36 336.30322 
L 261.72 336.637333 
L 262.08 336.118667 
L 262.44 336.464 
L 262.8 335.945333 
L 263.16 336.290667 
L 263.52 335.772 
L 263.88 336.117333 
L 264.24 335.598667 
L 264.6 335.944 
L 264.96 335.425333 
L 265.32 335.770667 
L 265.68 335.356981 
L 266.04 335.877283 
L 266.4 335.533585 
L 266.76 336.053887 
L 267.12 335.710189 
L 267.48 336.230491 
L 267.84 335.886792 
L 268.2 336.407094 
L 268.56 336.063396 
L 268.92 336.583698 
L 269.28 336.24 
L 269.64 336.748364 
L 270 336.392727 
L 270.36 336.901091 
L 270.72 336.545455 
L 271.08 337.053818 
L 271.44 336.698182 
L 271.62 336.952364 
L 271.98 337.789059 
L 272.16 338.033647 
L 272.7 339.631412 
L 272.88 339.876 
L 273.42 341.473765 
L 273.6 341.718353 
L 273.96 343.071529 
L 274.14 343.1754 
L 274.32 342.7164 
L 274.68 342.6624 
L 275.04 341.7444 
L 275.4 341.6904 
L 275.76 340.7724 
L 276.12 340.7184 
L 276.48 339.8004 
L 276.84 339.7464 
L 277.2 338.953846 
L 277.56 339.108923 
L 277.92 338.4 
L 278.28 338.555077 
L 278.64 337.846154 
L 278.82 337.923692 
L 279 337.546667 
L 279.54 335.210667 
L 279.72 334.72 
L 280.26 332.384 
L 280.44 331.893333 
L 280.8 330.048 
L 281.16 329.68 
L 281.52 328.448 
L 281.88 328.08 
L 282.24 326.848 
L 282.6 326.48 
L 282.96 325.682182 
L 283.32 326.037818 
L 283.68 325.529455 
L 284.04 325.885091 
L 284.4 325.376727 
L 284.76 325.732364 
L 285.12 325.224 
L 285.48 325.953 
L 285.84 325.818 
L 286.2 326.547 
L 286.56 326.412 
L 286.92 327.141 
L 287.28 327.006 
L 287.64 327.735 
L 288.36 327.498667 
L 288.72 326.533333 
L 289.08 326.432 
L 289.44 325.466667 
L 289.8 325.365333 
L 289.98 324.973091 
L 290.16 324.942545 
L 290.52 325.745455 
L 290.88 325.684364 
L 291.24 326.487273 
L 291.6 326.426182 
L 291.96 327.229091 
L 292.32 327.168 
L 292.68 328.254545 
L 293.04 328.477091 
L 293.4 329.563636 
L 293.76 329.786182 
L 294.12 330.872727 
L 294.48 331.095273 
L 294.84 332.165333 
L 295.2 332.346667 
L 295.56 333.392 
L 295.92 333.573333 
L 296.28 334.618667 
L 296.64 334.8 
L 297.18 336.4335 
L 297.36 336.69 
L 297.9 338.3235 
L 298.08 338.58 
L 298.62 340.2135 
L 298.8 340.47 
L 299.16 341.4906 
L 299.52 341.4096 
L 299.88 342.1926 
L 300.24 342.1116 
L 300.6 342.8946 
L 300.96 342.8136 
L 301.32 343.5966 
L 301.68 343.5156 
L 302.04 344.359256 
L 302.4 344.379349 
L 302.76 345.263442 
L 303.12 345.283535 
L 303.48 346.167628 
L 303.84 346.187721 
L 304.2 347.071814 
L 304.56 347.091907 
L 304.92 347.976 
L 305.28 347.358545 
L 305.64 347.605091 
L 306 346.987636 
L 306.36 347.234182 
L 306.72 346.616727 
L 307.08 346.863273 
L 307.26 346.554545 
L 307.44 346.483459 
L 307.8 347.324108 
L 308.16 347.300757 
L 308.52 348.141405 
L 308.88 348.118054 
L 309.24 348.958703 
L 309.6 348.935351 
L 309.96 349.776 
L 310.32 349.76 
L 310.68 350.608 
L 311.04 350.592 
L 311.4 351.44 
L 311.76 351.424 
L 312.12 352.272 
L 312.48 352.256 
L 312.84 353.104 
L 313.38 352.976727 
L 313.56 352.865455 
L 313.92 351.778909 
L 314.28 351.556364 
L 314.64 350.469818 
L 315 350.247273 
L 315.36 349.160727 
L 315.54 349.049455 
L 315.72 348.698667 
L 316.26 346.602667 
L 316.44 346.192 
L 316.98 344.096 
L 317.16 343.685333 
L 317.52 342 
L 317.88 342.072 
L 318.24 341.28 
L 318.6 341.352 
L 318.96 340.56 
L 319.32 340.632 
L 319.68 339.84 
L 320.04 339.912 
L 320.4 339.12 
L 320.76 339.352851 
L 321.12 338.721702 
L 321.48 338.954553 
L 321.84 338.323404 
L 322.2 338.556255 
L 322.56 337.925106 
L 322.92 338.157957 
L 323.28 337.526809 
L 323.64 337.75966 
L 324 337.378909 
L 324.36 338.029091 
L 324.72 337.815273 
L 325.08 338.465455 
L 325.44 338.251636 
L 325.8 338.901818 
L 326.16 338.688 
L 326.52 339.698182 
L 326.88 339.844364 
L 327.24 340.854545 
L 327.6 341.000727 
L 327.96 342.010909 
L 328.32 342.157091 
L 328.68 342.97583 
L 329.04 342.643404 
L 329.4 343.174979 
L 329.76 342.842553 
L 330.12 343.374128 
L 330.48 343.041702 
L 330.84 343.573277 
L 331.2 343.240851 
L 331.56 343.772426 
L 331.92 343.44 
L 332.28 343.872 
L 332.64 343.44 
L 333 343.872 
L 333.36 343.44 
L 333.72 343.872 
L 334.08 343.44 
L 334.44 343.872 
L 334.8 343.44 
L 335.16 343.872 
L 335.52 343.44 
L 335.7 343.656 
L 335.88 343.617882 
L 336.24 342.550588 
L 336.6 342.347294 
L 336.96 341.28 
L 337.32 341.076706 
L 337.68 340.009412 
L 338.04 339.806118 
L 338.4 338.688 
L 338.76 338.4 
L 339.12 337.248 
L 339.48 336.96 
L 339.84 335.808 
L 340.2 335.52 
L 340.56 334.368 
L 340.92 334.08 
L 341.46 332.464154 
L 341.64 332.174769 
L 342.18 330.442615 
L 342.36 330.153231 
L 342.9 328.421077 
L 343.08 328.4685 
L 343.44 327.86775 
L 343.8 328.131 
L 344.16 327.53025 
L 344.52 327.7935 
L 344.88 327.19275 
L 345.24 327.456 
L 345.6 326.739789 
L 345.96 326.887579 
L 346.32 326.171368 
L 346.68 326.319158 
L 347.04 325.602947 
L 347.4 325.750737 
L 347.76 325.034526 
L 347.94 325.108421 
L 348.12 325.406512 
L 348.48 325.250791 
L 348.84 325.95907 
L 349.2 325.803349 
L 349.56 326.511628 
L 349.92 326.355907 
L 350.28 327.064186 
L 350.64 326.908465 
L 351 327.616744 
L 351.54 326.759707 
L 351.72 326.707902 
L 352.08 325.740293 
L 352.44 325.636683 
L 352.8 324.669073 
L 353.16 324.565463 
L 353.52 323.597854 
L 353.88 323.494244 
L 354.24 322.580842 
L 354.6 322.567579 
L 354.96 321.690316 
L 355.32 321.677053 
L 355.68 320.799789 
L 356.04 320.786526 
L 356.4 319.909263 
L 356.76 319.896 
L 357.12 319.086581 
L 357.48 319.141161 
L 357.84 318.331742 
L 358.2 318.386323 
L 358.56 317.576903 
L 358.92 317.631484 
L 359.28 316.822065 
L 359.64 316.876645 
L 360 316.067226 
L 360.36 316.121806 
L 360.72 315.312387 
L 361.08 315.366968 
L 361.26 315.073091 
L 361.44 315.222545 
L 361.8 316.385455 
L 362.16 316.684364 
L 362.52 317.847273 
L 362.88 318.146182 
L 363.24 319.309091 
L 363.6 319.608 
L 364.14 321.6168 
L 364.32 321.9984 
L 364.86 324.0072 
L 365.04 324.3888 
L 365.58 326.3976 
L 365.76 326.7792 
L 366.3 328.788 
L 366.48 329.1696 
L 367.02 331.1784 
L 367.2 331.56 
L 367.74 333.383143 
L 367.92 333.702857 
L 368.46 335.526 
L 368.64 335.845714 
L 369.18 337.668857 
L 369.36 337.988571 
L 369.9 339.811714 
L 370.08 340.131429 
L 371.52 346.824 
L 372.6 354.672 
L 372.96 353.987234 
L 373.32 354.166468 
L 373.68 353.481702 
L 374.04 353.660936 
L 374.4 352.97617 
L 374.76 353.155404 
L 375.12 352.470638 
L 375.48 352.649872 
L 375.84 351.965106 
L 376.02 351.970435 
L 376.2 351.638609 
L 376.74 349.77913 
L 376.92 349.447304 
L 377.46 347.587826 
L 377.64 347.256 
L 378 346.035064 
L 378.36 345.678128 
L 378.72 344.457191 
L 379.08 344.100255 
L 379.44 342.879319 
L 379.8 342.522383 
L 380.16 341.301447 
L 380.52 340.944511 
L 381.06 339.477366 
L 381.24 338.960195 
L 381.78 336.544683 
L 381.96 336.027512 
L 382.5 333.612 
L 382.68 333.094829 
L 383.22 330.679317 
L 383.4 330.162146 
L 383.94 327.746634 
L 384.12 327.19392 
L 384.66 324.64512 
L 384.84 324.08352 
L 385.38 321.53472 
L 385.56 320.97312 
L 385.92 319.52736 
L 386.28 319.75776 
L 386.64 319.12416 
L 387 319.35456 
L 387.36 318.72096 
L 387.72 318.95136 
L 388.08 318.31776 
L 388.44 318.54816 
L 388.8 317.91456 
L 389.16 318.14496 
L 389.52 317.51136 
L 389.88 317.74176 
L 390.24 317.10816 
L 390.6 317.33856 
L 390.96 316.70496 
L 391.32 316.930286 
L 391.68 316.284 
L 392.04 316.501714 
L 392.4 315.855429 
L 392.76 316.073143 
L 393.12 315.426857 
L 393.48 315.644571 
L 393.84 314.998286 
L 394.2 315.216 
L 394.56 314.244 
L 394.92 314.136 
L 395.28 313.164 
L 395.64 313.056 
L 395.82 312.69 
L 396 312.804 
L 396.36 313.896 
L 396.72 314.124 
L 397.08 315.216 
L 397.44 315.444 
L 397.8 316.536 
L 398.16 316.764 
L 398.52 317.736 
L 398.88 317.664 
L 399.24 318.456 
L 399.6 318.384 
L 399.96 319.176 
L 400.32 319.104 
L 400.68 319.896 
L 401.04 319.824 
L 401.4 320.616 
L 401.76 319.905818 
L 402.12 320.059636 
L 402.48 319.349455 
L 402.84 319.503273 
L 402.984 319.176 
L 402.984 319.176 
" clip-path="url(#pef7c43d9bb)" style="fill: none; stroke-dasharray: 5.55,2.4; stroke-dashoffset: 0; stroke: #000000; stroke-opacity: 0.5; stroke-width: 1.5"/>
   </g>
   <g id="line2d_58">
    <path d="M 88.2 309.024 
L 92.88 311.76 
L 97.2 311.4 
L 100.8 312.48 
L 106.56 313.92 
L 108.36 312.12 
L 110.88 312.84 
L 112.32 312.12 
L 115.2 313.56 
L 120.024 317.232 
L 157.68 317.232 
L 162.432 309.888 
L 164.16 296.28 
L 165.888 275.04 
L 167.328 297.72 
L 168.48 301.392 
L 173.376 304.704 
L 178.2 312.12 
L 180.36 314.136 
L 184.896 315.36 
L 191.52 324.504 
L 196.2 326.304 
L 200.52 331.344 
L 204.984 328.32 
L 206.856 322.056 
L 208.8 319.68 
L 214.776 314.856 
L 216.72 315.864 
L 218.16 315.36 
L 221.04 317.304 
L 222.984 320.184 
L 224.856 324.936 
L 227.304 327.816 
L 229.176 331.704 
L 235.944 332.352 
L 238.32 334.584 
L 240.696 337.896 
L 242.64 338.4 
L 245.52 327.168 
L 248.4 328.104 
L 251.28 334.08 
L 255.024 341.784 
L 257.616 342.72 
L 259.344 339.336 
L 264.96 338.688 
L 269.784 333.144 
L 274.104 336.024 
L 276.48 333.576 
L 278.424 335.016 
L 282.96 320.832 
L 287.064 324 
L 290.376 322.344 
L 294.264 328.824 
L 296.64 325.44 
L 298.944 329.616 
L 302.04 329.76 
L 305.424 333.504 
L 307.296 332.496 
L 310.32 337.896 
L 314.136 346.104 
L 318.024 340.344 
L 320.904 337.896 
L 324.216 335.304 
L 326.16 336.96 
L 329.544 343.224 
L 331.92 349.92 
L 334.8 360.504 
L 336.528 363.816 
L 338.184 357.624 
L 342 354.24 
L 347.4 349.92 
L 350.64 340.344 
L 352.944 332.496 
L 356.616 324.36 
L 359.064 333.576 
L 360.576 333.576 
L 363.96 337.32 
L 373.68 375.264 
L 379.44 367.2 
L 381.96 361.8 
L 383.4 352.8 
L 384.84 336.96 
L 386.424 322.2 
L 387.216 329.976 
L 391.824 326.376 
L 393.624 320.4 
L 396 316.584 
L 399.6 319.824 
L 403.2 317.376 
" clip-path="url(#pef7c43d9bb)" style="fill: none; stroke: #4c72b0; stroke-opacity: 0.75; stroke-width: 1.5; stroke-linecap: round"/>
   </g>
   <g id="patch_14">
    <path d="M 69.12 380.16 
L 69.12 270 
" style="fill: none; stroke: #ffffff; stroke-width: 1.25; stroke-linejoin: miter; stroke-linecap: square"/>
   </g>
   <g id="patch_15">
    <path d="M 419.04 380.16 
L 419.04 270 
" style="fill: none; stroke: #ffffff; stroke-width: 1.25; stroke-linejoin: miter; stroke-linecap: square"/>
   </g>
   <g id="patch_16">
    <path d="M 69.12 380.16 
L 419.04 380.16 
" style="fill: none; stroke: #ffffff; stroke-width: 1.25; stroke-linejoin: miter; stroke-linecap: square"/>
   </g>
   <g id="patch_17">
    <path d="M 69.12 270 
L 419.04 270 
" style="fill: none; stroke: #ffffff; stroke-width: 1.25; stroke-linejoin: miter; stroke-linecap: square"/>
   </g>
  </g>
 </g>
 <defs>
  <clipPath id="p0ea78d6b2a">
   <rect x="69.12" y="12.96" width="349.92" height="110.16"/>
  </clipPath>
  <clipPath id="pbe1f5e90db">
   <rect x="69.12" y="141.84" width="349.92" height="110.16"/>
  </clipPath>
  <clipPath id="pef7c43d9bb">
   <rect x="69.12" y="270" width="349.92" height="110.16"/>
  </clipPath>
 </defs>
</svg>

</body></html>
